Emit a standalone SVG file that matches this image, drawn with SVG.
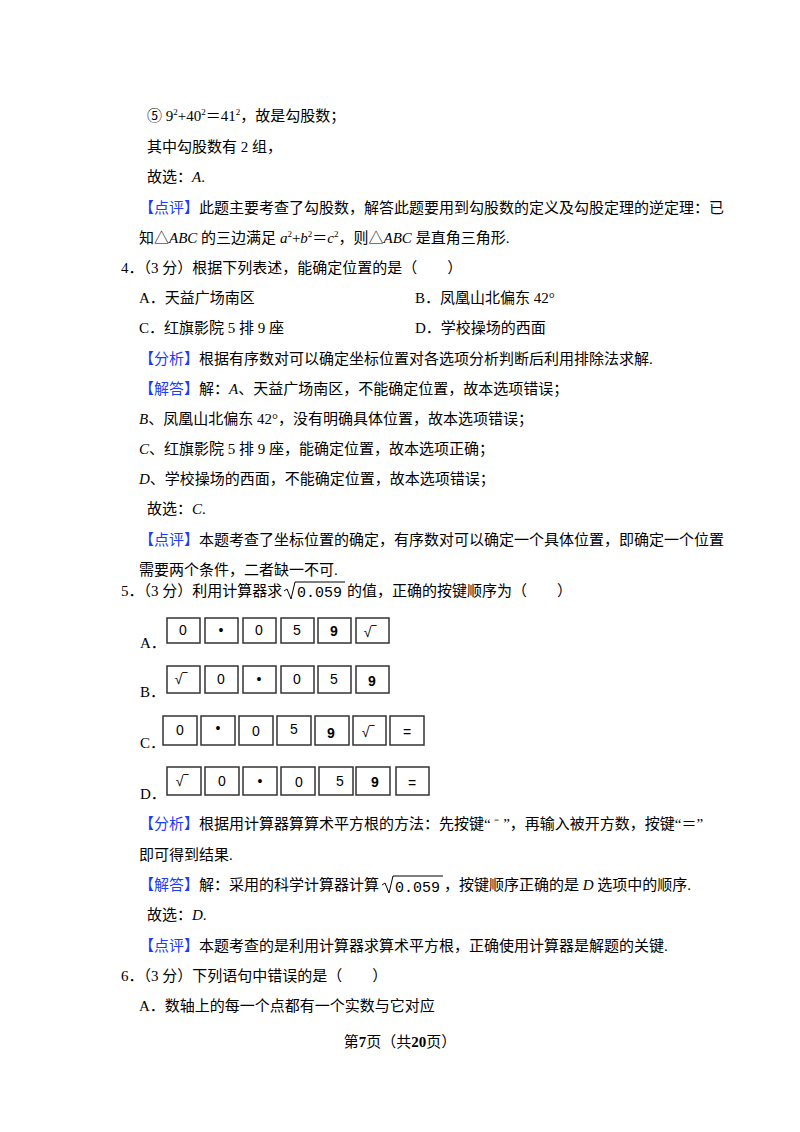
<svg xmlns="http://www.w3.org/2000/svg" width="800" height="1132" viewBox="0 0 800 1132">
<style>
text{font-family:"Liberation Serif","Noto Sans CJK SC",serif;font-size:15px;fill:#000}
.b{fill:#1a3cff}
.k{fill:#fff;stroke:#333;stroke-width:1.5}
.kt{font-family:"Liberation Sans",sans-serif;font-size:14px;text-anchor:middle}
.i{font-style:italic}
</style>
<rect width="800" height="1132" fill="#fff"/>
<text x="147" y="121">⑤ 9<tspan font-size="9" dy="-6">2</tspan><tspan dy="6">+40</tspan><tspan font-size="9" dy="-6">2</tspan><tspan dy="6">＝41</tspan><tspan font-size="9" dy="-6">2</tspan><tspan dy="6">，故是勾股数；</tspan></text>
<text x="147" y="152">其中勾股数有 2 组，</text>
<text x="147" y="182">故选：<tspan class="i">A</tspan>.</text>
<text x="139" y="213"><tspan class="b">【点评】</tspan>此题主要考查了勾股数，解答此题要用到勾股数的定义及勾股定理的逆定理：已</text>
<text x="139" y="243">知△<tspan class="i">ABC</tspan> 的三边满足 <tspan class="i">a</tspan><tspan font-size="9" dy="-6">2</tspan><tspan dy="6">+</tspan><tspan class="i">b</tspan><tspan font-size="9" dy="-6">2</tspan><tspan dy="6">＝</tspan><tspan class="i">c</tspan><tspan font-size="9" dy="-6">2</tspan><tspan dy="6">，则△</tspan><tspan class="i">ABC</tspan> 是直角三角形.</text>
<text x="121" y="273">4．（3 分）根据下列表述，能确定位置的是（　　）</text>
<text x="139" y="303">A．天益广场南区</text>
<text x="415" y="303">B．凤凰山北偏东 42°</text>
<text x="139" y="333">C．红旗影院 5 排 9 座</text>
<text x="415" y="333">D．学校操场的西面</text>
<text x="139" y="364"><tspan class="b">【分析】</tspan>根据有序数对可以确定坐标位置对各选项分析判断后利用排除法求解.</text>
<text x="139" y="394"><tspan class="b">【解答】</tspan>解：<tspan class="i">A</tspan>、天益广场南区，不能确定位置，故本选项错误；</text>
<text x="139" y="424"><tspan class="i">B</tspan>、凤凰山北偏东 42°，没有明确具体位置，故本选项错误；</text>
<text x="139" y="454"><tspan class="i">C</tspan>、红旗影院 5 排 9 座，能确定位置，故本选项正确；</text>
<text x="139" y="484"><tspan class="i">D</tspan>、学校操场的西面，不能确定位置，故本选项错误；</text>
<text x="147" y="514">故选：<tspan class="i">C</tspan>.</text>
<text x="139" y="545"><tspan class="b">【点评】</tspan>本题考查了坐标位置的确定，有序数对可以确定一个具体位置，即确定一个位置</text>
<text x="139" y="575">需要两个条件，二者缺一不可.</text>
<text x="121" y="596">5．（3 分）利用计算器求</text>
<path d="M284 591 l3 -2 l4 10 l4 -17 h50" fill="none" stroke="#000" stroke-width="1"/>
<text x="297" y="597" style="font-family:'Liberation Mono',monospace;font-size:15px">0.059</text>
<text x="347" y="596">的值，正确的按键顺序为（　　）</text>
<g id="rowA">
<text x="140" y="648">A．</text>
<rect class="k" x="167" y="618" width="33" height="25"/><text class="kt" x="183" y="635">0</text>
<rect class="k" x="205" y="618" width="33" height="25"/><text class="kt" x="221" y="635">•</text>
<rect class="k" x="243" y="618" width="33" height="25"/><text class="kt" x="259" y="635">0</text>
<rect class="k" x="281" y="618" width="33" height="25"/><text class="kt" x="297" y="635">5</text>
<rect class="k" x="318" y="618" width="33" height="25"/><text class="kt" x="334" y="636" font-weight="bold">9</text>
<rect class="k" x="356" y="618" width="33" height="25"/><text class="kt" x="370" y="637">√‾</text>
</g>
<g id="rowB">
<text x="140" y="697">B．</text>
<rect class="k" x="167" y="666" width="33" height="27"/><text class="kt" x="181" y="684">√‾</text>
<rect class="k" x="205" y="666" width="33" height="27"/><text class="kt" x="221" y="684">0</text>
<rect class="k" x="243" y="666" width="33" height="27"/><text class="kt" x="259" y="684">•</text>
<rect class="k" x="281" y="666" width="33" height="27"/><text class="kt" x="297" y="684">0</text>
<rect class="k" x="318" y="666" width="33" height="27"/><text class="kt" x="334" y="684">5</text>
<rect class="k" x="356" y="666" width="33" height="27"/><text class="kt" x="372" y="686" font-weight="bold">9</text>
</g>
<g id="rowC">
<text x="140" y="748">C．</text>
<rect class="k" x="163" y="716" width="34" height="29"/><text class="kt" x="180" y="735">0</text>
<rect class="k" x="201" y="716" width="34" height="29"/><text class="kt" x="218" y="733">•</text>
<rect class="k" x="239" y="716" width="34" height="29"/><text class="kt" x="256" y="736">0</text>
<rect class="k" x="277" y="716" width="34" height="29"/><text class="kt" x="294" y="734">5</text>
<rect class="k" x="315" y="716" width="34" height="29"/><text class="kt" x="331" y="738" font-weight="bold">9</text>
<rect class="k" x="353" y="716" width="33" height="29"/><text class="kt" x="368" y="737">√‾</text>
<rect class="k" x="390" y="716" width="34" height="29"/><text class="kt" x="407" y="737">=</text>
</g>
<g id="rowD">
<text x="140" y="799">D．</text>
<rect class="k" x="167" y="767" width="34" height="28"/><text class="kt" x="182" y="786">√‾</text>
<rect class="k" x="205" y="767" width="34" height="28"/><text class="kt" x="222" y="786">0</text>
<rect class="k" x="243" y="767" width="34" height="28"/><text class="kt" x="260" y="786">•</text>
<rect class="k" x="281" y="767" width="34" height="28"/><text class="kt" x="299" y="787">0</text>
<rect class="k" x="319" y="767" width="34" height="28"/><text class="kt" x="340" y="786">5</text>
<rect class="k" x="356" y="767" width="34" height="28"/><text class="kt" x="375" y="787" font-weight="bold">9</text>
<rect class="k" x="396" y="767" width="33" height="28"/><text class="kt" x="412" y="788">=</text>
</g>
<text x="139" y="829"><tspan class="b">【分析】</tspan>根据用计算器算算术平方根的方法：先按键“ ⁻ ”，再输入被开方数，按键“＝”</text>
<text x="139" y="860">即可得到结果.</text>
<text x="139" y="890"><tspan class="b">【解答】</tspan>解：采用的科学计算器计算</text>
<path d="M382 885 l3 -2 l4 10 l4 -17 h50" fill="none" stroke="#000" stroke-width="1"/>
<text x="395" y="892" style="font-family:'Liberation Mono',monospace;font-size:15px">0.059</text>
<text x="444" y="890">，按键顺序正确的是 <tspan class="i">D</tspan> 选项中的顺序.</text>
<text x="147" y="920">故选：<tspan class="i">D</tspan>.</text>
<text x="139" y="951"><tspan class="b">【点评】</tspan>本题考查的是利用计算器求算术平方根，正确使用计算器是解题的关键.</text>
<text x="121" y="981">6．（3 分）下列语句中错误的是（　　）</text>
<text x="139" y="1011">A．数轴上的每一个点都有一个实数与它对应</text>
<text x="400" y="1047" text-anchor="middle" font-size="13">第<tspan font-weight="bold" font-size="15">7</tspan>页（共<tspan font-weight="bold" font-size="15">20</tspan>页）</text>
</svg>
